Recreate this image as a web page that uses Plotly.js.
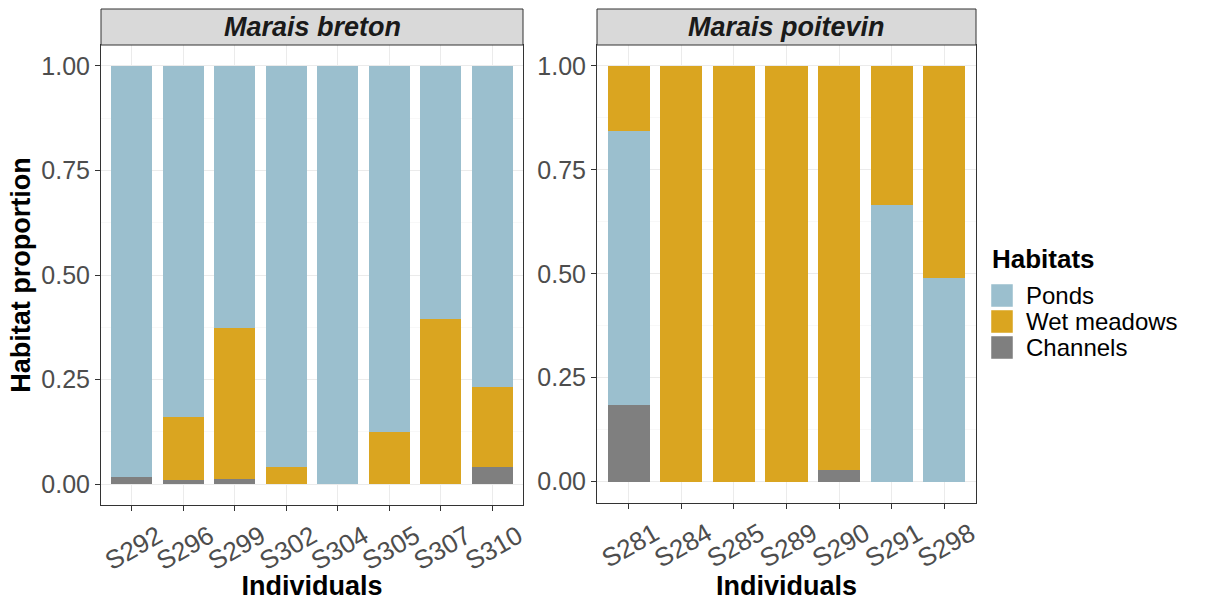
<!DOCTYPE html>
<html>
<head>
<meta charset="utf-8">
<script src="https://cdn.plot.ly/plotly-3.0.1.min.js"></script>
<style>html,body{margin:0;padding:0;background:#fff;}#chart{width:1212px;height:601px;}</style>
</head>
<body>
<div id="chart"></div>
<script>
// ---- data ----
const bretonIndividuals = ['S292','S296','S299','S302','S304','S305','S307','S310'];
const bretonChannels    = [0.017, 0.010, 0.012, 0.000, 0.000, 0.000, 0.000, 0.041];
const bretonWetMeadows  = [0.000, 0.150, 0.362, 0.041, 0.000, 0.124, 0.394, 0.190];
const bretonPonds       = [0.983, 0.840, 0.626, 0.959, 1.000, 0.876, 0.606, 0.769];

const poitevinIndividuals = ['S281','S284','S285','S289','S290','S291','S298'];
const poitevinChannels    = [0.184, 0.000, 0.000, 0.000, 0.027, 0.000, 0.000];
const poitevinPonds       = [0.660, 0.000, 0.000, 0.000, 0.000, 0.666, 0.489];
const poitevinWetMeadows  = [0.156, 1.000, 1.000, 1.000, 0.973, 0.334, 0.511];

const panelNames = ['Marais breton', 'Marais poitevin'];
const habitatNames = ['Ponds', 'Wet meadows', 'Channels'];
const yTickVals = [0, 0.25, 0.5, 0.75, 1];
const yTickText = ['0.00', '0.25', '0.50', '0.75', '1.00'];

// ---- styles ----
const colors = {'Ponds':'#9BBFCE', 'Wet meadows':'#DAA520', 'Channels':'#7F7F7F'};
const FONT = 'Liberation Sans, Arial, sans-serif';
const W = 1212, H = 601;
const fx = p => p / W;
const fy = p => 1 - p / H;

function bar(x, y, name, xa, ya) {
  return {type:'bar', x:x, y:y, name:name, xaxis:xa, yaxis:ya, width:0.8,
          marker:{color:colors[name], line:{width:0}}, showlegend:false, hoverinfo:'x+y+name'};
}

const traces = [
  bar(bretonIndividuals, bretonChannels, 'Channels', 'x', 'y'),
  bar(bretonIndividuals, bretonWetMeadows, 'Wet meadows', 'x', 'y'),
  bar(bretonIndividuals, bretonPonds, 'Ponds', 'x', 'y'),
  bar(poitevinIndividuals, poitevinChannels, 'Channels', 'x2', 'y2'),
  bar(poitevinIndividuals, poitevinPonds, 'Ponds', 'x2', 'y2'),
  bar(poitevinIndividuals, poitevinWetMeadows, 'Wet meadows', 'x2', 'y2')
];

const panels = [
  {x0:101, x1:523, y0:45, y1:505, n:bretonIndividuals.length},
  {x0:597, x1:976, y0:45, y1:502.5, n:poitevinIndividuals.length}
];

function xaxis(p) {
  return {domain:[fx(p.x0), fx(p.x1)], range:[-0.6, p.n - 0.4], type:'category',
    showline:true, mirror:true, linecolor:'#333333', linewidth:1,
    showgrid:true, gridcolor:'#EBEBEB', gridwidth:1,
    ticks:'outside', ticklen:5, tickcolor:'#333333', tickwidth:1,
    tickangle:-30, ticklabelshift:26, ticklabelstandoff:0,
    tickfont:{family:FONT, size:26, color:'#4D4D4D'},
    title:{text:'Individuals', font:{family:FONT, size:27, color:'#000', weight:'bold'}, standoff:0},
    fixedrange:true};
}
function yaxis(p, anchor) {
  return {domain:[fy(p.y1), fy(p.y0)], range:[-0.05, 1.05], anchor:anchor,
    showline:true, mirror:true, linecolor:'#333333', linewidth:1,
    zeroline:false, showgrid:true, gridcolor:'#EBEBEB', gridwidth:1,
    tickmode:'array', tickvals:yTickVals, ticktext:yTickText,
    minor:{showgrid:true, gridcolor:'#F3F3F3', gridwidth:0.6, tickmode:'linear', tick0:0.125, dtick:0.25, ticks:''},
    ticks:'outside', ticklen:5, tickcolor:'#333333', tickwidth:1,
    tickfont:{family:FONT, size:25, color:'#4D4D4D'}, fixedrange:true};
}

const shapes = [];
const annotations = [];
panels.forEach((p, i) => {
  shapes.push({type:'rect', xref:'paper', yref:'paper', x0:fx(p.x0), x1:fx(p.x1), y0:fy(45), y1:fy(9),
               fillcolor:'#D9D9D9', line:{color:'#333333', width:1}, layer:'above'});
  annotations.push({xref:'paper', yref:'paper', x:fx((p.x0+p.x1)/2), y:fy(27), xanchor:'center', yanchor:'middle',
               text:'<b><i>'+panelNames[i]+'</i></b>', showarrow:false, font:{family:FONT, size:27, color:'#1A1A1A'}});
});

// legend (drawn by hand to get ggplot-sized keys)
annotations.push({xref:'paper', yref:'paper', x:fx(990), y:fy(259), xanchor:'left', yanchor:'middle',
  text:'<b>Habitats</b>', showarrow:false, font:{family:FONT, size:26, color:'#000'}});
habitatNames.forEach((h, i) => {
  const top = 284 + i*26;
  shapes.push({type:'rect', xref:'paper', yref:'paper', x0:fx(991), x1:fx(1013), y0:fy(top+23), y1:fy(top),
               fillcolor:colors[h], line:{color:'rgba(255,255,255,0.6)', width:0.8}});
  annotations.push({xref:'paper', yref:'paper', x:fx(1025), y:fy(top+11.5), xanchor:'left', yanchor:'middle',
               text:h, showarrow:false, borderpad:0, font:{family:FONT, size:24, color:'#000'}});
});

const yA = yaxis(panels[0], 'x');
yA.title = {text:'Habitat proportion', font:{family:FONT, size:27, color:'#000', weight:'bold'}, standoff:2};
const layout = {
  width:W, height:H, margin:{l:0, r:0, t:0, b:0, autoexpand:false},
  paper_bgcolor:'#fff', plot_bgcolor:'#fff', barmode:'stack', bargap:0.2,
  showlegend:false, font:{family:FONT},
  xaxis:xaxis(panels[0]), yaxis:yA,
  xaxis2:Object.assign(xaxis(panels[1]), {anchor:'y2'}), yaxis2:yaxis(panels[1], 'x2'),
  shapes:shapes, annotations:annotations
};
layout.xaxis.anchor = 'y';
Plotly.newPlot('chart', traces, layout, {staticPlot:true, displayModeBar:false});
</script>
</body>
</html>
